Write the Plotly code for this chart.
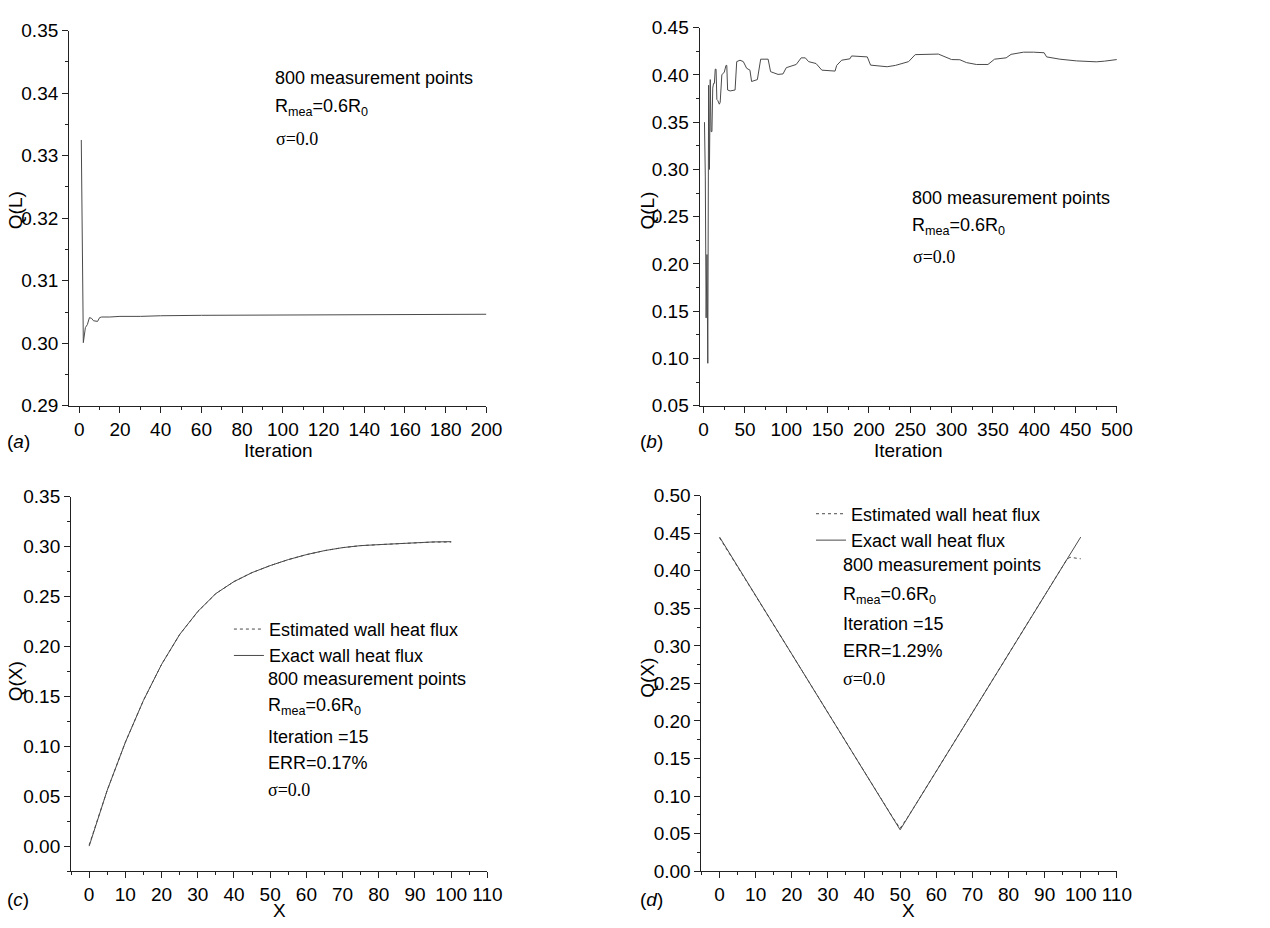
import plotly.graph_objects as go

# ---- data -------------------------------------------------------------
# (a) Q(L) history, 200 iterations
a_iter = [1, 2, 3, 4, 5, 6, 7, 8, 9, 10, 11, 15, 20, 30, 40, 60, 80, 100,
          120, 140, 160, 180, 200]
a_q = [0.3325, 0.3001, 0.3025, 0.3030, 0.3041, 0.3040, 0.3036, 0.3035,
       0.3035, 0.3041, 0.3042, 0.3042, 0.3043, 0.3043, 0.3044, 0.30447,
       0.30450, 0.30452, 0.30454, 0.30456, 0.30460, 0.30462, 0.30464]

# (b) Q(L) history, 500 iterations
b_iter = [1, 2, 3, 4, 5, 6, 7, 8, 9, 10, 11, 12, 13, 14, 15, 16, 17,
          19, 20, 22, 25, 27, 28, 29, 32, 38, 40,
          44, 48, 52, 56, 58, 65, 69, 78, 81, 90,
          96, 100, 112, 118, 123, 127, 136, 143, 154, 159,
          161, 167, 177, 179, 198, 202, 222, 232, 248, 256,
          284, 300, 310, 318, 330, 344, 352, 366, 372, 387,
          399, 412, 415, 431, 451, 475, 485, 500]
b_q = [0.350, 0.293, 0.143, 0.210, 0.095, 0.389, 0.300, 0.395, 0.340, 0.340,
       0.386, 0.391, 0.391, 0.406, 0.406, 0.374, 0.373,
       0.369, 0.371, 0.400, 0.403, 0.410, 0.410, 0.384, 0.383, 0.384, 0.414,
       0.4155, 0.414, 0.407, 0.405, 0.393, 0.395, 0.4166, 0.4166, 0.4034, 0.4005,
       0.401, 0.4076, 0.411, 0.418, 0.418, 0.414, 0.412, 0.405, 0.404, 0.404,
       0.410, 0.4155, 0.417, 0.420, 0.419, 0.4103, 0.4086, 0.410, 0.414, 0.4214,
       0.422, 0.4162, 0.416, 0.413, 0.411, 0.411, 0.4166, 0.418, 0.4217, 0.424,
       0.424, 0.4234, 0.419, 0.4166, 0.4148, 0.4138, 0.4145, 0.4162]

# (c) smooth wall heat flux
c_x = [0, 5, 10, 15, 20, 25, 30, 35, 40, 45, 50, 55, 60, 65, 70, 75, 80,
       85, 90, 95, 100]
c_exact = [0.000, 0.056, 0.104, 0.146, 0.182, 0.212, 0.235, 0.253, 0.265,
           0.274, 0.281, 0.287, 0.292, 0.296, 0.299, 0.301, 0.302, 0.303,
           0.304, 0.3047, 0.305]
c_est = [0.001, 0.056, 0.104, 0.146, 0.182, 0.212, 0.235, 0.253, 0.265,
         0.274, 0.281, 0.287, 0.292, 0.296, 0.299, 0.301, 0.302, 0.303,
         0.304, 0.3046, 0.3046]

# (d) triangular wall heat flux
d_exact_x = [0, 50, 100]
d_exact = [0.445, 0.055, 0.445]
d_est_x = [0, 10, 20, 30, 40, 48, 50, 52, 60, 70, 80, 90, 95, 96, 97, 98, 100]
d_est = [0.444, 0.367, 0.289, 0.211, 0.133, 0.071, 0.057, 0.071, 0.133,
         0.211, 0.289, 0.367, 0.406, 0.414, 0.418, 0.417, 0.416]

# ---- page geometry (pixels) --------------------------------------------
W, H = 1270, 928
SANS = "Arial, Liberation Sans, sans-serif"
SERIF = "Times New Roman, Liberation Serif, serif"
LINE = "#4a4a4a"
AXC = "#222222"
TICK_FS = 19
TEXT_FS = 18


def px(x):
    return x / W


def py(y):
    return 1 - y / H


def xaxis(x0, x1, rng, dtick, minor, anchor):
    return dict(domain=[px(x0), px(x1)], range=rng, dtick=dtick, tick0=0,
                anchor=anchor, showline=True, linecolor=AXC, linewidth=1,
                ticks="outside", ticklen=6, tickcolor=AXC, showgrid=False,
                zeroline=False, tickangle=0,
                tickfont=dict(family=SANS, size=TICK_FS, color="black"),
                minor=dict(dtick=minor, tick0=0, ticks="outside", ticklen=3,
                           tickcolor=AXC, showgrid=False))


def yaxis(y_top, y_bot, rng, dtick, minor, anchor):
    return dict(domain=[py(y_bot), py(y_top)], range=rng, dtick=dtick, tick0=0,
                anchor=anchor, showline=True, linecolor=AXC, linewidth=1,
                ticks="outside", ticklen=6, tickcolor=AXC, showgrid=False,
                zeroline=False, tickformat=".2f",
                tickfont=dict(family=SANS, size=TICK_FS, color="black"),
                minor=dict(dtick=minor, tick0=0, ticks="outside", ticklen=3,
                           tickcolor=AXC, showgrid=False))


fig = go.Figure()

fig.add_trace(go.Scatter(x=a_iter, y=a_q, mode="lines", xaxis="x", yaxis="y",
                         line=dict(color=LINE, width=1), showlegend=False))
fig.add_trace(go.Scatter(x=b_iter, y=b_q, mode="lines", xaxis="x2", yaxis="y2",
                         line=dict(color=LINE, width=1), showlegend=False))

fig.add_trace(go.Scatter(x=c_x, y=c_exact, mode="lines", xaxis="x3", yaxis="y3",
                         name="Exact wall heat flux", legend="legend",
                         legendrank=2, line=dict(color=LINE, width=1)))
fig.add_trace(go.Scatter(x=c_x, y=c_est, mode="lines", xaxis="x3", yaxis="y3",
                         name="Estimated wall heat flux", legend="legend",
                         legendrank=1, line=dict(color=LINE, width=1, dash="dot")))

fig.add_trace(go.Scatter(x=d_exact_x, y=d_exact, mode="lines", xaxis="x4", yaxis="y4",
                         name="Exact wall heat flux", legend="legend2",
                         legendrank=2, line=dict(color=LINE, width=1)))
fig.add_trace(go.Scatter(x=d_est_x, y=d_est, mode="lines", xaxis="x4", yaxis="y4",
                         name="Estimated wall heat flux", legend="legend2",
                         legendrank=1, line=dict(color=LINE, width=1, dash="dot")))

legend_style = dict(xanchor="left", yanchor="middle", bgcolor="rgba(0,0,0,0)",
                    font=dict(family=SANS, size=TEXT_FS, color="black"),
                    tracegroupgap=0, itemwidth=30)

fig.update_layout(
    width=W, height=H, margin=dict(l=0, r=0, t=0, b=0),
    paper_bgcolor="white", plot_bgcolor="white",
    xaxis=xaxis(69, 492, [-5, 200], 20, 10, "y"),
    yaxis=yaxis(21, 405, [0.29, 0.35], 0.01, 0.005, "x"),
    xaxis2=xaxis(708, 1131, [-5, 500], 50, 25, "y2"),
    yaxis2=yaxis(18, 405, [0.05, 0.45], 0.05, 0.025, "x2"),
    xaxis3=xaxis(71, 493, [-5, 110], 10, 5, "y3"),
    yaxis3=yaxis(498, 881, [-0.025, 0.35], 0.05, 0.025, "x3"),
    xaxis4=xaxis(710, 1131, [-5, 110], 10, 5, "y4"),
    yaxis4=yaxis(497, 881, [0, 0.5], 0.05, 0.025, "x4"),
    legend=dict(x=px(231), y=py(647), **legend_style),
    legend2=dict(x=px(821), y=py(529), **legend_style),
)

ann = []


def text(x, y, s, size=TEXT_FS, family=SANS, xanchor="left", angle=0):
    ann.append(dict(x=px(x), y=py(y), xref="paper", yref="paper", text=s,
                    showarrow=False, xanchor=xanchor, yanchor="middle",
                    textangle=angle,
                    font=dict(family=family, size=size, color="black")))


RMEA = "R<sub>mea</sub>=0.6R<sub>0</sub>"

# panel (a)
text(276, 70, "800 measurement points")
text(276, 100, RMEA)
text(277, 132, "σ=0.0", family=SERIF)
# panel (b)
text(921, 192, "800 measurement points")
text(921, 222, RMEA)
text(922, 253, "σ=0.0", family=SERIF)
# panel (c)
text(269, 684, "800 measurement points")
text(269, 713, RMEA)
text(269, 744, "Iteration =15")
text(269, 770, "ERR=0.17%")
text(269, 798, "σ=0.0", family=SERIF)
# panel (d)
text(851, 568, "800 measurement points")
text(851, 599, RMEA)
text(851, 628, "Iteration =15")
text(851, 656, "ERR=1.29%")
text(851, 684, "σ=0.0", family=SERIF)

# axis titles
text(281, 451, "Iteration", size=TICK_FS, xanchor="center")
text(920, 451, "Iteration", size=TICK_FS, xanchor="center")
text(282, 921, "X", size=TICK_FS, xanchor="center")
text(920, 921, "X", size=TICK_FS, xanchor="center")
text(15, 205, "Q(L)", size=TICK_FS, xanchor="center", angle=-90)
text(655, 205, "Q(L)", size=TICK_FS, xanchor="center", angle=-90)
text(15, 687, "Q(X)", size=TICK_FS, xanchor="center", angle=-90)
text(655, 683, "Q(X)", size=TICK_FS, xanchor="center", angle=-90)

# panel letters
text(4, 442, "(<i>a</i>)", size=TICK_FS)
text(646, 442, "(<i>b</i>)", size=TICK_FS)
text(4, 910, "(<i>c</i>)", size=TICK_FS)
text(646, 910, "(<i>d</i>)", size=TICK_FS)

fig.update_layout(annotations=ann)

fig.write_html("out.html")
